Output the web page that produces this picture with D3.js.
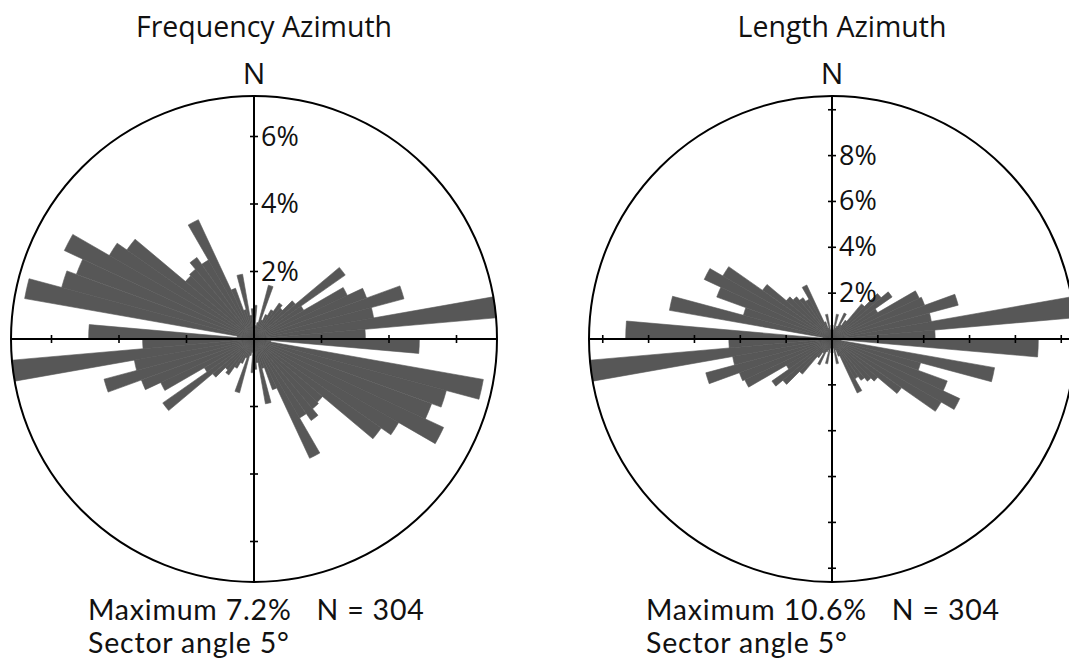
<!DOCTYPE html>
<html>
<head>
<meta charset="utf-8">
<script src="https://cdn.jsdelivr.net/npm/d3@7/dist/d3.min.js"></script>
<style>
  body { margin: 0; background: #fff; }
  svg { display: block; }
  text { font-family: "Open Sans", sans-serif; fill: #111; }
  text.note { font-family: Lato, "Open Sans", sans-serif; letter-spacing: 0.8px; }
</style>
</head>
<body>
<svg id="chart" width="1069" height="662"></svg>
<script>
// Start azimuth (degrees from north) of each 5° sector; the rose is bidirectional,
// so every sector is also drawn at azimuth + 180°.
const sectorAzimuths = [0, 5, 10, 15, 20, 25, 30, 35, 40, 45, 50, 55, 60, 65, 70, 75, 80, 85,
                        90, 95, 100, 105, 110, 115, 120, 125, 130, 135, 140, 145, 150, 155, 160, 165, 170, 175];

// Percentage of fractures per sector (count based)
const frequencyPct = [1.0, 0.4, 0.5, 1.65, 0.6, 0.8, 1.0, 1.3, 1.2, 1.6, 3.3, 1.7, 3.05, 3.55, 4.6, 3.6, 7.2, 3.3,
                      4.9, 0.5, 6.9, 5.9, 5.6, 6.2, 4.95, 4.6, 2.65, 2.7, 2.95, 2.7, 3.9, 1.6, 0.9, 1.95, 0.7, 0.9];

// Percentage of total fracture length per sector
const lengthPct = [0.6, 0.4, 1.1, 0.5, 0.6, 1.25, 0.7, 1.0, 2.0, 2.8, 3.2, 2.3, 4.2, 4.3, 5.7, 4.4, 10.6, 4.5,
                   9.0, 0.4, 7.2, 4.0, 5.35, 6.15, 5.5, 3.7, 2.6, 2.4, 2.2, 2.0, 2.6, 0.8, 0.5, 1.1, 0.4, 0.6];

const frequencyTicks = [2, 4, 6];
const frequencyTickLabels = ["2%", "4%", "6%"];
const lengthTicks = [2, 4, 6, 8, 10];
const lengthTickLabels = ["2%", "4%", "6%", "8%"];

const sectorAngle = 5;
const sampleCount = 304;

const panels = [
  { title: "Frequency Azimuth", values: frequencyPct, ticks: frequencyTicks, tickLabels: frequencyTickLabels, cx: 254, noteX: 88 },
  { title: "Length Azimuth",    values: lengthPct,    ticks: lengthTicks,    tickLabels: lengthTickLabels,    cx: 832, noteX: 646 }
];

const svg = d3.select("#chart");
svg.append("rect").attr("width", 1069).attr("height", 662).attr("fill", "#fff");

const cy = 339;
const R = 243;
const barColor = "#575757";
const toRad = d => d * Math.PI / 180;

panels.forEach(p => {
  const maxVal = d3.max(p.values);
  const r = d3.scaleLinear().domain([0, maxVal]).range([0, R]);

  const g = svg.append("g").attr("transform", `translate(${p.cx},${cy})`);

  // sectors, mirrored through the centre
  const sectors = [];
  sectorAzimuths.forEach((az, i) => {
    sectors.push({ az: az, v: p.values[i] });
    sectors.push({ az: az + 180, v: p.values[i] });
  });

  const arc = d3.arc()
    .innerRadius(0)
    .outerRadius(d => r(d.v))
    .startAngle(d => toRad(d.az))
    .endAngle(d => toRad(d.az + sectorAngle));

  g.selectAll("path.sector")
    .data(sectors)
    .join("path")
    .attr("class", "sector")
    .attr("d", arc)
    .attr("fill", barColor)
    .attr("stroke", barColor)
    .attr("stroke-width", 0.6)
    .attr("stroke-linejoin", "miter");

  // outer circle
  g.append("circle").attr("r", R).attr("fill", "none").attr("stroke", "#000").attr("stroke-width", 2);

  // cross axes
  g.append("line").attr("x1", -R).attr("x2", R).attr("y1", 0).attr("y2", 0)
    .attr("stroke", "#000").attr("stroke-width", 2);
  g.append("line").attr("x1", 0).attr("x2", 0).attr("y1", -R).attr("y2", R)
    .attr("stroke", "#000").attr("stroke-width", 2);

  // ticks on all four half-axes
  const tickLen = 4;
  p.ticks.forEach(t => {
    const d = r(t);
    [d, -d].forEach(x => {
      g.append("line").attr("x1", x).attr("x2", x).attr("y1", -tickLen).attr("y2", tickLen)
        .attr("stroke", "#000").attr("stroke-width", 1.6);
    });
    [d, -d].forEach(y => {
      g.append("line").attr("y1", y).attr("y2", y).attr("x1", -tickLen).attr("x2", tickLen)
        .attr("stroke", "#000").attr("stroke-width", 1.6);
    });
  });

  // percentage labels up the north axis
  p.tickLabels.forEach((lab, i) => {
    g.append("text")
      .attr("x", 7)
      .attr("y", -r(p.ticks[i]) + 9)
      .attr("font-size", 27)
      .text(lab);
  });

  // north marker
  g.append("text").attr("x", 0).attr("y", 84 - cy).attr("text-anchor", "middle")
    .attr("font-size", 30).text("N");

  // title
  g.append("text").attr("x", 10).attr("y", 37 - cy).attr("text-anchor", "middle")
    .attr("font-size", 28.5).text(p.title);

  // summary lines under the circle
  const maxText = svg.append("text").attr("class", "note").attr("x", p.noteX).attr("y", 620)
    .attr("font-size", 28.5).text(`Maximum ${maxVal}%`);
  const maxWidth = maxText.node().getComputedTextLength();
  svg.append("text").attr("class", "note").attr("x", p.noteX + maxWidth + 25).attr("y", 620)
    .attr("font-size", 28.5).text(`N = ${sampleCount}`);
  svg.append("text").attr("class", "note").attr("x", p.noteX).attr("y", 653)
    .attr("font-size", 28.5).text(`Sector angle ${sectorAngle}°`);
});
</script>
</body>
</html>
